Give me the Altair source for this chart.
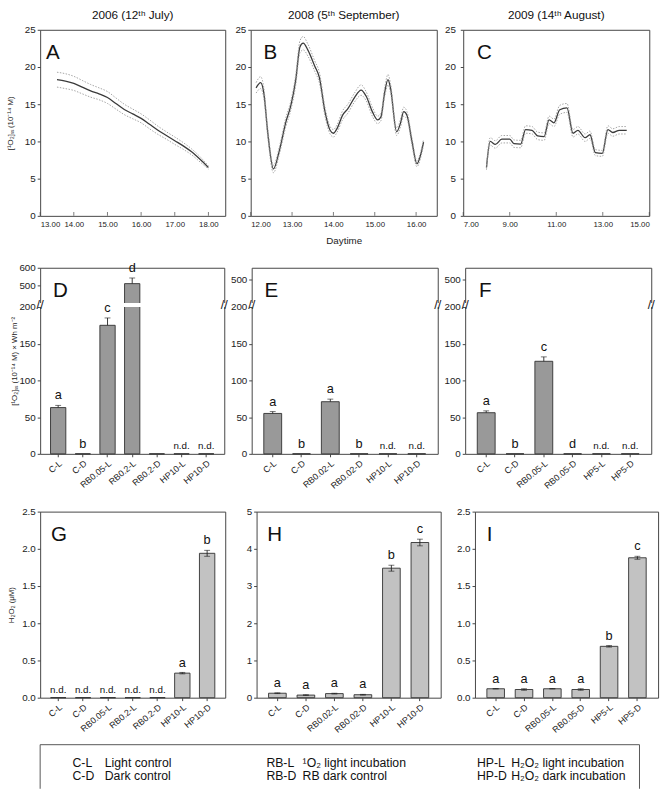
import altair as alt
import pandas as pd

FONT = "Liberation Sans"

# ---------------- diurnal [1O2]ss time courses ----------------
a_time = [13.5, 13.75, 14.0, 14.25, 14.5, 14.75, 15.0, 15.25, 15.5, 15.75,
          16.0, 16.25, 16.5, 16.75, 17.0, 17.25, 17.5, 17.75, 18.0]
a_mean = [18.3, 18.1, 17.8, 17.3, 16.8, 16.4, 15.9, 15.1, 14.3, 13.7,
          13.1, 12.3, 11.5, 10.8, 10.1, 9.4, 8.6, 7.6, 6.5]
a_sd = [1.0, 1.0, 0.95, 0.9, 0.85, 0.8, 0.8, 0.75, 0.7, 0.65,
        0.6, 0.6, 0.55, 0.5, 0.5, 0.45, 0.4, 0.35, 0.2]

b_time = [12.13, 12.24, 12.32, 12.41, 12.55, 12.69, 12.85, 12.97, 13.09, 13.19,
          13.27, 13.38, 13.55, 13.66, 13.80, 13.92, 14.00, 14.09, 14.22, 14.35,
          14.51, 14.67, 14.79, 14.95, 15.07, 15.15, 15.24, 15.32, 15.38, 15.53,
          15.62, 15.70, 15.78, 15.90, 16.02, 16.10, 16.18]
b_mean = [17.2, 17.9, 16.4, 11.3, 6.3, 8.7, 12.6, 14.8, 18.3, 22.7,
          23.2, 22.3, 20.1, 18.6, 13.9, 11.5, 11.1, 11.75, 13.5, 14.4,
          15.9, 16.9, 16.1, 13.9, 12.9, 13.3, 16.6, 18.3, 17.2, 11.3,
          12.4, 14.0, 13.5, 10.0, 7.0, 8.0, 9.9]
b_sd = [0.7, 0.8, 0.7, 0.6, 0.5, 0.5, 0.6, 0.6, 0.7, 0.8,
        0.9, 0.8, 0.7, 0.7, 0.6, 0.5, 0.5, 0.5, 0.6, 0.6,
        0.6, 0.7, 0.6, 0.6, 0.5, 0.5, 0.6, 0.7, 0.6, 0.5,
        0.5, 0.6, 0.5, 0.5, 0.4, 0.4, 0.4]

c_time = [8.00, 8.16, 8.38, 8.66, 9.00, 9.18, 9.47, 9.68, 9.96, 10.20,
          10.48, 10.69, 10.90, 11.15, 11.46, 11.72, 11.93, 12.24, 12.45, 12.68,
          12.98, 13.22, 13.43, 13.71, 14.03]
c_mean = [6.5, 10.0, 9.6, 10.3, 10.3, 9.7, 9.65, 11.6, 11.5, 10.75,
          10.65, 12.9, 12.5, 14.25, 14.5, 11.1, 11.5, 10.5, 10.9, 8.5,
          8.4, 11.6, 11.2, 11.5, 11.5]
c_sd = [0.3, 0.5, 0.5, 0.5, 0.5, 0.5, 0.5, 0.5, 0.5, 0.5,
        0.5, 0.5, 0.5, 0.6, 0.6, 0.5, 0.5, 0.5, 0.5, 0.4,
        0.4, 0.5, 0.5, 0.5, 0.5]

# ---------------- [1O2]ss x irradiance in incubations ----------------
d_cats = ["C-L", "C-D", "RB0.05-L", "RB0.2-L", "RB0.2-D", "HP10-L", "HP10-D"]
d_vals = [63, 0, 175, 510, 0, 0, 0]
d_errs = [3, 0, 10, 32, 0, 0, 0]
d_marks = ["a", "b", "c", "d", "", "n.d.", "n.d."]

e_cats = ["C-L", "C-D", "RB0.02-L", "RB0.02-D", "HP10-L", "HP10-D"]
e_vals = [55, 0, 71, 0, 0, 0]
e_errs = [2.5, 0, 3.5, 0, 0, 0]
e_marks = ["a", "b", "a", "b", "n.d.", "n.d."]

f_cats = ["C-L", "C-D", "RB0.05-L", "RB0.05-D", "HP5-L", "HP5-D"]
f_vals = [56, 0, 126, 0, 0, 0]
f_errs = [2.5, 0, 6, 0, 0, 0]
f_marks = ["a", "b", "c", "d", "n.d.", "n.d."]

# ---------------- H2O2 in incubations ----------------
g_cats = d_cats
g_vals = [0, 0, 0, 0, 0, 0.33, 1.94]
g_errs = [0, 0, 0, 0, 0, 0.01, 0.04]
g_marks = ["n.d.", "n.d.", "n.d.", "n.d.", "n.d.", "a", "b"]

h_cats = e_cats
h_vals = [0.12, 0.07, 0.11, 0.08, 3.48, 4.17]
h_errs = [0.01, 0.01, 0.01, 0.01, 0.08, 0.09]
h_marks = ["a", "a", "a", "a", "b", "c"]

i_cats = f_cats
i_vals = [0.12, 0.11, 0.12, 0.11, 0.69, 1.88]
i_errs = [0.003, 0.01, 0.003, 0.01, 0.01, 0.02]
i_marks = ["a", "a", "a", "a", "b", "c"]

# ---------------- treatment key ----------------
key_codes = ["C-L", "C-D", "RB-L", "RB-D", "HP-L", "HP-D"]
key_texts = ["Light control", "Dark control",
             "¹O₂ light incubation", "RB dark control",
             "H₂O₂ light incubation", "H₂O₂ dark incubation"]

H1 = 190
H = 190
YTITLE_SS = "[¹O₂]ₛₛ (10⁻¹⁴ M)"


def panel_letter(letter, dx, dy=13):
    return alt.Chart(pd.DataFrame({"l": [letter]})).mark_text(
        align="left", baseline="top", fontSize=21, font=FONT, fill="#111"
    ).encode(x=alt.value(dx), y=alt.value(dy), text="l:N")


def line_panel(time, mean, sd, letter, ldx, xdom, xticks, width, ext,
               title, xtitle=None, ytitle=None, lpad=2):
    df = pd.DataFrame({
        "t": time, "m": mean,
        "lo": [m - s for m, s in zip(mean, sd)],
        "hi": [m + s for m, s in zip(mean, sd)],
    })
    xax = alt.Axis(values=xticks, tickCount=30, format=".2f", labelFontSize=8,
                   ticks=False, labelPadding=5, labelOverlap=False, title=xtitle,
                   titleFontSize=10, titleFontWeight="normal", titlePadding=7)
    yax = alt.Axis(values=[0, 5, 10, 15, 20, 25], tickCount=30, tickSize=3,
                   title=ytitle, labelOverlap=False, labelPadding=lpad,
                   minExtent=ext, maxExtent=ext, titleFontSize=8,
                   titleFontWeight="normal", titlePadding=3)
    xs = alt.Scale(domain=xdom, nice=False, zero=False)
    ys = alt.Scale(domain=[0, 25], nice=False)
    base = alt.Chart(df)
    mean_line = base.mark_line(color="#3a3a3a", strokeWidth=1.3,
                               interpolate="monotone").encode(
        x=alt.X("t:Q", scale=xs, axis=xax), y=alt.Y("m:Q", scale=ys, axis=yax))
    band_style = dict(color="#9a9a9a", strokeWidth=0.9, strokeDash=[1.5, 1.5],
                      interpolate="monotone")
    hi_line = base.mark_line(**band_style).encode(
        x=alt.X("t:Q", scale=xs, axis=xax), y=alt.Y("hi:Q", scale=ys, axis=yax))
    lo_line = base.mark_line(**band_style).encode(
        x=alt.X("t:Q", scale=xs, axis=xax), y=alt.Y("lo:Q", scale=ys, axis=yax))
    # inward tick marks along the time axis
    inner_ticks = alt.Chart(pd.DataFrame({"tk": xticks})).mark_tick(
        color="#444", thickness=1, size=4).encode(
        x=alt.X("tk:Q", scale=xs, axis=xax), y=alt.value(H1 - 2))
    head = alt.Chart(pd.DataFrame({"h": [title]})).mark_text(
        fontSize=12, font=FONT, fill="#111", baseline="middle", align="center").encode(
        x=alt.value(width / 2), y=alt.value(-15), text="h:N")
    return alt.layer(mean_line, hi_line, lo_line, inner_ticks, head,
                     panel_letter(letter, ldx)).properties(width=width, height=H1)


def bar_panel(cats, vals, errs, marks, letter, ldx, yscale, yticks, fill,
              width, ext, both_sides, break_lo=None, break_hi=None,
              ytitle=None, yformat="d", lpad=2):
    df = pd.DataFrame({
        "cat": cats, "v": vals, "e": errs, "lab": marks,
        "top": [v + e for v, e in zip(vals, errs)],
        "low": [v - e if both_sides else v for v, e in zip(vals, errs)],
    })
    xax = alt.Axis(labelAngle=-40, labelAlign="right", labelBaseline="top",
                   labelFontSize=9, tickSize=3, title=None, labelPadding=2,
                   labelOverlap=False)
    yax = alt.Axis(values=yticks, tickCount=30, tickSize=3, format=yformat,
                   title=ytitle, labelOverlap=False, labelPadding=lpad,
                   minExtent=ext, maxExtent=ext, titleFontSize=8,
                   titleFontWeight="normal", titlePadding=3)
    xs = alt.Scale(paddingInner=0.38, paddingOuter=0.42)

    def X():
        return alt.X("cat:N", sort=cats, scale=xs, axis=xax)

    def Y(field):
        return alt.Y(field, scale=yscale, axis=yax)

    base = alt.Chart(df)
    bars = base.mark_bar(fill=fill, stroke="#2f2f2f", strokeWidth=0.9).encode(
        x=X(), y=Y("v:Q"))
    has_err = base.transform_filter("datum.e > 0")
    whisker = has_err.mark_rule(color="#222", strokeWidth=0.9).encode(
        x=X(), y=Y("low:Q"), y2="top:Q")
    cap_top = has_err.mark_tick(color="#222", thickness=0.9, size=6).encode(
        x=X(), y=Y("top:Q"))
    layers = [bars, whisker, cap_top]
    if both_sides:
        layers.append(has_err.mark_tick(color="#222", thickness=0.9, size=6).encode(
            x=X(), y=Y("low:Q")))
    if break_lo is not None:
        brk = pd.DataFrame({"a": [break_lo], "b": [break_hi],
                            "m": [(break_lo + break_hi) / 2]})
        gap = alt.Chart(brk).mark_rect(color="white").encode(
            x=alt.value(-3), x2=alt.value(width + 3), y=Y("a:Q"), y2="b:Q")
        slash_style = dict(text="//", fontSize=13, font=FONT, fill="#222",
                           baseline="middle", align="center")
        slash_l = alt.Chart(brk).mark_text(**slash_style).encode(
            x=alt.value(0), y=Y("m:Q"))
        slash_r = alt.Chart(brk).mark_text(**slash_style).encode(
            x=alt.value(width), y=Y("m:Q"))
        layers += [gap, slash_l, slash_r]
    letters = base.mark_text(baseline="bottom", dy=-3, font=FONT, fill="#111").encode(
        x=X(), y=Y("top:Q"), text="lab:N",
        size=alt.condition("datum.lab == 'n.d.'", alt.value(10), alt.value(13)))
    layers += [letters, panel_letter(letter, ldx)]
    return alt.layer(*layers).properties(width=width, height=H)


# ---- row 1: time courses ----
pa = line_panel(a_time, a_mean, a_sd, "A", 6, [13, 18.5], [13, 14, 15, 16, 17, 18],
                189, 23, "2006 (12ᵗʰ July)", ytitle=YTITLE_SS)
pb = line_panel(b_time, b_mean, b_sd, "B", 13, [12, 16.5], [12, 13, 14, 15, 16],
                190, 18, "2008 (5ᵗʰ September)", xtitle="Daytime")
pc = line_panel(c_time, c_mean, c_sd, "C", 14, [7, 15], [7, 9, 11, 13, 15],
                190, 18, "2009 (14ᵗʰ August)", lpad=5)

# ---- row 2: broken axis (0-200 below, upper values compressed above) ----
sd_ = alt.Scale(domain=[0, 200, 400, 600], range=[H, 40, 36, 0], nice=False)
se_ = alt.Scale(domain=[0, 200, 400, 550], range=[H, 40, 36, 0], nice=False)
DARK = "#999999"
pd_ = bar_panel(d_cats, d_vals, d_errs, d_marks, "D", 13, sd_,
                [0, 50, 100, 150, 200, 500, 600], DARK, 188, 19, False, 201, 399,
                ytitle="[¹O₂]ₛₛ (10⁻¹⁴ M) × Wh m⁻²")
pe_ = bar_panel(e_cats, e_vals, e_errs, e_marks, "E", 13, se_,
                [0, 50, 100, 150, 200, 500], DARK, 190, 18, False, 201, 399)
pf_ = bar_panel(f_cats, f_vals, f_errs, f_marks, "F", 14, se_,
                [0, 50, 100, 150, 200, 500], DARK, 190, 18, False, 201, 399)

# ---- row 3: H2O2 ----
LIGHT = "#c2c2c2"
pg = bar_panel(g_cats, g_vals, g_errs, g_marks, "G", 11,
               alt.Scale(domain=[0, 2.5], nice=False), [0, 0.5, 1.0, 1.5, 2.0, 2.5],
               LIGHT, 189, 22, True, ytitle="H₂O₂ (μM)", yformat=".1f")
ph = bar_panel(h_cats, h_vals, h_errs, h_marks, "H", 11,
               alt.Scale(domain=[0, 5], nice=False), [0, 1, 2, 3, 4, 5],
               LIGHT, 188, 18, True)
pi_ = bar_panel(i_cats, i_vals, i_errs, i_marks, "I", 12,
                alt.Scale(domain=[0, 2.5], nice=False), [0, 0.5, 1.0, 1.5, 2.0, 2.5],
                LIGHT, 187, 21, True, yformat=".1f")

# ---- key box (open at the bottom edge) ----
KW, KH = 612, 45
key_df = pd.DataFrame({
    "code": key_codes, "txt": key_texts,
    "grp": [0, 0, 1, 1, 2, 2], "row": [0, 1, 0, 1, 0, 1],
})
ky = alt.Y("row:Q", scale=alt.Scale(domain=[0, 1], range=[19, 32.5]), axis=None)
key_style = dict(align="left", baseline="middle", fontSize=12.5, font=FONT, fill="#111")
key_codes_l = alt.Chart(key_df).mark_text(**key_style).encode(
    x=alt.X("grp:Q", scale=alt.Scale(domain=[0, 1, 2], range=[33, 231, 446]), axis=None),
    y=ky, text="code:N")
key_txt_l = alt.Chart(key_df).mark_text(**key_style).encode(
    x=alt.X("grp:Q", scale=alt.Scale(domain=[0, 1, 2], range=[66, 268, 481]), axis=None),
    y=ky, text="txt:N")
one = pd.DataFrame({"k": [0]})
edge_top = alt.Chart(one).mark_rule(color="#555").encode(
    x=alt.value(0), x2=alt.value(KW), y=alt.value(0))
edge_left = alt.Chart(one).mark_rule(color="#555").encode(
    x=alt.value(0), y=alt.value(0), y2=alt.value(KH))
edge_right = alt.Chart(one).mark_rule(color="#555").encode(
    x=alt.value(KW), y=alt.value(0), y2=alt.value(KH))
key = alt.layer(edge_top, edge_left, edge_right, key_codes_l, key_txt_l).resolve_scale(
    x="independent").properties(
    width=KW, height=KH, view=alt.ViewBackground(stroke="transparent"))

row1 = alt.hconcat(pa, pb, pc, spacing=6)
row2 = alt.hconcat(pd_, pe_, pf_, spacing=0)
row3 = alt.hconcat(pg, ph, pi_, spacing=12)

panels = alt.vconcat(alt.vconcat(row1, row2, spacing=15), row3, spacing=15)
chart = alt.vconcat(panels, key, spacing=9).properties(
    padding={"left": 6, "top": 0, "right": 4, "bottom": 0}
).configure_view(stroke="#444", strokeWidth=1).configure_axis(
    domain=False, labelFont=FONT, titleFont=FONT, labelColor="#222",
    titleColor="#222", tickColor="#444", grid=False, labelOverlap=False
).configure_text(font=FONT)

chart.save("out.html", embed_options={"renderer": "svg", "actions": False})
